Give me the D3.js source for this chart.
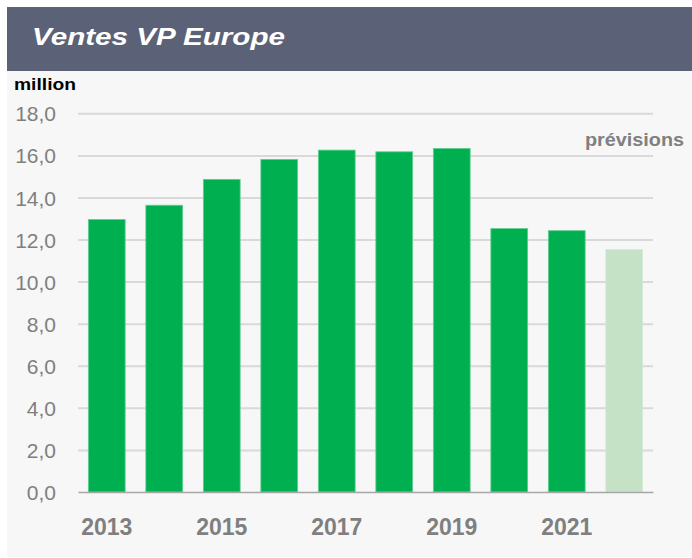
<!DOCTYPE html>
<html>
<head>
<meta charset="utf-8">
<script src="https://cdn.jsdelivr.net/npm/d3@7"></script>
<style>
  body { margin: 0; background: #ffffff; }
  svg { display: block; font-family: 'Liberation Sans', Arial, sans-serif; }
</style>
</head>
<body>
<svg id="chart" width="692" height="558"></svg>
<script>
// data
const years = [2013, 2014, 2015, 2016, 2017, 2018, 2019, 2020, 2021, 2022];
const sales = [12.95, 13.63, 14.86, 15.81, 16.25, 16.17, 16.33, 12.52, 12.42, 11.53];
const forecastYears = [2022];
const yTicks = [0, 2, 4, 6, 8, 10, 12, 14, 16, 18];
const xLabels = [2013, 2015, 2017, 2019, 2021];

const width = 692,
  height = 558;
const margins = { left: 78, right: 39, top: 113.3, bottom: 66 };

const vis = d3.select('#chart');

// panel + title band
vis
  .append('rect')
  .attr('x', 7)
  .attr('y', 7)
  .attr('width', width - 7)
  .attr('height', height - 8)
  .attr('fill', '#f7f7f7');

vis
  .append('rect')
  .attr('x', 7)
  .attr('y', 7)
  .attr('width', width - 7)
  .attr('height', 64)
  .attr('fill', '#5b6277');

vis
  .append('text')
  .attr('x', 32)
  .attr('y', 45)
  .attr('fill', '#ffffff')
  .attr('font-size', 24)
  .attr('font-weight', 'bold')
  .attr('font-style', 'italic')
  .attr('textLength', 253)
  .attr('lengthAdjust', 'spacingAndGlyphs')
  .text('Ventes VP Europe');

vis
  .append('text')
  .attr('x', 14)
  .attr('y', 90)
  .attr('fill', '#000000')
  .attr('font-size', 17)
  .attr('font-weight', 'bold')
  .attr('textLength', 62)
  .attr('lengthAdjust', 'spacingAndGlyphs')
  .text('million');

const xScale = d3
    .scaleBand()
    .domain(years)
    .range([margins.left, width - margins.right])
    .paddingInner(0.36)
    .paddingOuter(0.18),
  yScale = d3
    .scaleLinear()
    .domain([0, 18])
    .range([height - margins.bottom, margins.top]);

const fmt = v => d3.format('.1f')(v).replace('.', ',');

// y gridlines
vis
  .append('g')
  .attr('class', 'grid')
  .attr('transform', 'translate(' + margins.left + ',0)')
  .call(
    d3
      .axisLeft(yScale)
      .tickValues(yTicks.filter(t => t > 0))
      .tickSize(-(width - margins.left - margins.right))
      .tickFormat('')
      .tickSizeOuter(0)
  )
  .call(g => g.select('.domain').remove())
  .call(g => g.selectAll('.tick line').attr('stroke', '#d9d9d9').attr('stroke-width', 2));

// y tick labels
vis
  .append('g')
  .attr('transform', 'translate(56,0)')
  .call(d3.axisLeft(yScale).tickValues(yTicks).tickSize(0).tickPadding(0).tickFormat(fmt))
  .call(g => g.select('.domain').remove())
  .call(g =>
    g
      .selectAll('text')
      .attr('fill', '#7f7f7f')
      .attr('font-size', 21)
      .attr('font-family', 'Liberation Sans, Arial, sans-serif')
      .attr('dy', '0.36em')
  );

// bars
vis
  .append('g')
  .selectAll('rect')
  .data(years)
  .join('rect')
  .attr('x', d => xScale(d))
  .attr('width', xScale.bandwidth())
  .attr('y', (d, i) => yScale(sales[i]))
  .attr('height', (d, i) => yScale(0) - yScale(sales[i]))
  .attr('fill', d => (forecastYears.includes(d) ? '#c5e2c6' : '#00b050'))
  .attr('stroke', d => (forecastYears.includes(d) ? '#d4ead5' : '#5fcf8e'))
  .attr('stroke-width', 0.8);

// x axis line + labels
vis
  .append('g')
  .attr('transform', 'translate(0,' + yScale(0) + ')')
  .call(
    d3
      .axisBottom(xScale)
      .tickValues(xLabels)
      .tickSize(0)
      .tickPadding(0)
      .tickSizeOuter(0)
  )
  .call(g => g.select('.domain').attr('stroke', '#a6a6a6').attr('stroke-width', 1.6))
  .call(g =>
    g
      .selectAll('text')
      .attr('fill', '#7f7f7f')
      .attr('font-size', 23)
      .attr('font-weight', 'bold')
      .attr('font-family', 'Liberation Sans, Arial, sans-serif')
      .attr('y', 43)
      .attr('dy', 0)
  );

vis
  .append('text')
  .attr('x', 684)
  .attr('y', 146)
  .attr('text-anchor', 'end')
  .attr('fill', '#808080')
  .attr('font-size', 18)
  .attr('font-weight', 'bold')
  .attr('textLength', 99)
  .attr('lengthAdjust', 'spacingAndGlyphs')
  .text('prévisions');
</script>
</body>
</html>
